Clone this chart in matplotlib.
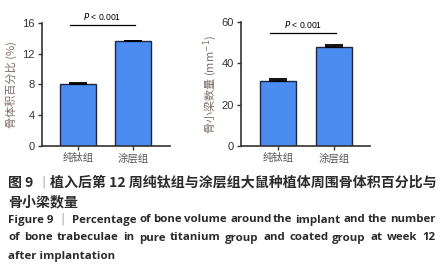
import matplotlib
matplotlib.use("Agg")
import matplotlib.pyplot as plt

plt.rcParams['font.family'] = ['Noto Sans CJK SC', 'DejaVu Sans']

groups = ["纯钛组", "涂层组"]
bv_mean = [8.05, 13.6]
bv_err = [0.12, 0.12]
tb_mean = [31.5, 48.0]
tb_err = [0.7, 1.1]
bv_ticks = [0, 4, 8, 12, 16]
tb_ticks = [0, 20, 40, 60]
p_text = "< 0.001"

bar_col = "#4a8cf0"
edge_col = "#1c2840"
axis_col = "#333333"
lab_col = "#7d6e66"

W, H = 444, 273
fig = plt.figure(figsize=(W / 100, H / 100), dpi=100)


def px_axes(x0, x1, ytop, ybot):
    return fig.add_axes([x0 / W, 1 - ybot / H, (x1 - x0) / W, (ybot - ytop) / H])


def panel(ax, mean, err, ticks, ylabel, xlim, sig_y, txt_y):
    x = range(len(mean))
    ax.bar(x, mean, width=0.65, color=bar_col, edgecolor=edge_col, linewidth=1.0, zorder=2)
    ax.errorbar(x, mean, yerr=[[0] * len(err), err], fmt='none', ecolor='black',
                elinewidth=1.0, capsize=6.5, capthick=1.3, zorder=3)
    ax.set_xlim(*xlim)
    ax.set_ylim(ticks[0], ticks[-1])
    ax.set_yticks(ticks)
    ax.set_xticks(list(x))
    ax.set_xticklabels(groups, fontsize=7.5, color="#555555")
    for s in ["top", "right"]:
        ax.spines[s].set_visible(False)
    for s in ["left", "bottom"]:
        ax.spines[s].set_color(axis_col)
        ax.spines[s].set_linewidth(1.2)
    ax.tick_params(axis='both', colors=axis_col, length=3, width=1.0, pad=2)
    ax.tick_params(axis='x', labelcolor="#555555", labelsize=7.5)
    ax.tick_params(axis='y', labelcolor="#333333", labelsize=8)
    for t in ax.get_yticklabels():
        t.set_family(['Liberation Sans', 'DejaVu Sans'])
    ax.set_ylabel(ylabel, fontsize=8, color=lab_col)
    ax.plot([-0.145, 1.036], [sig_y, sig_y], color="black", lw=0.9, clip_on=False)
    ax.text(0.445, txt_y, r"$\it{P}$ " + p_text, ha='center', va='center', fontsize=6.2,
            family=['Liberation Sans', 'DejaVu Sans'], clip_on=False)


ax1 = px_axes(42, 170, 23, 146)
panel(ax1, bv_mean, bv_err, bv_ticks, "骨体积百分比 (%)", (-0.655, 1.673), 15.74, 16.9)

ax2 = px_axes(241, 370, 22, 146)
panel(ax2, tb_mean, tb_err, tb_ticks, "骨小梁数量 (mm$^{-1}$)", (-0.66, 1.64), 54.7, 58.6)
ax1.yaxis.set_label_coords(-0.195, 0.5)
ax2.yaxis.set_label_coords(-0.17, 0.5)

# caption
fig.canvas.draw()
rend = fig.canvas.get_renderer()
cap_col = "#2b2b2b"


def put(s, x, y, color=cap_col, **kw):
    return fig.text(x / W, 1 - y / H, s, va='center', ha='left', color=color, **kw)


def width_px(t):
    return t.get_window_extent(renderer=rend).width


def fit_size(s, target, **kw):
    size = 9.0
    for _ in range(4):
        t = put(s, 0, 0, fontsize=size, **kw)
        w = width_px(t)
        t.remove()
        size *= target / w
    return size


def justify(words, x0, x1, y, **kw):
    ts = [put(w, x0, y, **kw) for w in words]
    ws = [width_px(t) for t in ts]
    gap = (x1 - x0 - sum(ws)) / max(len(words) - 1, 1)
    x = x0
    for t, w in zip(ts, ws):
        t.set_x(round(x) / W)
        x += w + gap


cn_font = dict(family=['Noto Sans CJK SC', 'DejaVu Sans'], weight='bold')
cn_line1 = "植入后第 12 周纯钛组与涂层组大鼠种植体周围骨体积百分比与"
cn = dict(fontsize=fit_size(cn_line1, 385, **cn_font), **cn_font)
put("图 9", 8, 183, **cn)
put("|", 41, 182, fontsize=9, color="#aaaaaa", family='DejaVu Sans')
put(cn_line1, 50, 183, **cn)
put("骨小梁数量", 8, 202, **cn)

en_line1 = "Percentage of bone volume around the implant and the number"
en_line2 = "of bone trabeculae in pure titanium group and coated group at week 12"
en_font = dict(weight='bold', family=['Open Sans', 'DejaVu Sans'])
en_size = min(fit_size(en_line1, 366, **en_font), fit_size(en_line2, 426, **en_font))
en = dict(fontsize=en_size, **en_font)
put("Figure 9", 8, 220, **en)
put("|", 60, 219, fontsize=9, color="#aaaaaa", family='DejaVu Sans')
justify(en_line1.split(), 72, 435, 220, **en)
justify(en_line2.split(), 8, 435, 238, **en)
put("after implantation", 8, 257, **en)

fig.savefig("out.png", dpi=100)
